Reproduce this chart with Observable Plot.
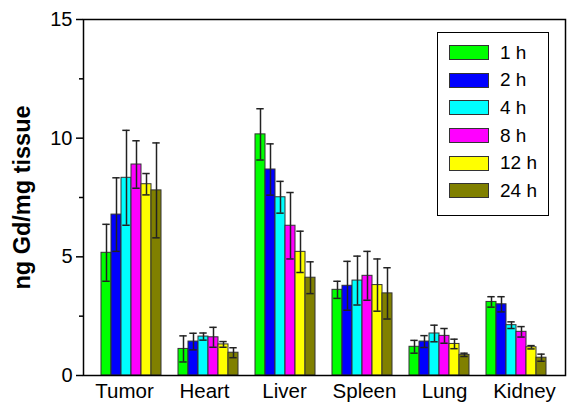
<!DOCTYPE html>
<html>
<head>
<meta charset="utf-8">
<script src="https://cdn.jsdelivr.net/npm/d3@7"></script>
<script src="https://cdn.jsdelivr.net/npm/@observablehq/plot@0.6"></script>
<style>
  html, body { margin: 0; padding: 0; background: #fff; }
  #wrap { position: relative; width: 567px; height: 403px; font-family: "Liberation Sans", Arial, sans-serif; }
  #bars, #axes { position: absolute; left: 0; top: 0; }
  #axes svg { background: transparent !important; }
  #legend { position: absolute; left: 437px; top: 32px; width: 110px; height: 176px; border: 1.5px solid #000; background: #fff; padding-top: 6px; box-sizing: content-box; }
  .row { display: flex; align-items: center; height: 27.6px; }
  .sw { width: 38px; height: 13px; border: 1.3px solid #333; margin-left: 11px; margin-right: 11px; }
  .lab { font-size: 19px; color: #000; }
</style>
</head>
<body>
<div id="wrap">
  <div id="bars"></div>
  <div id="axes"></div>
  <div id="legend"></div>
</div>
<script>
const organs = ["Tumor", "Heart", "Liver", "Spleen", "Lung", "Kidney"];
const times = ["1 h", "2 h", "4 h", "8 h", "12 h", "24 h"];
const colors = ["#00ff00", "#0000ff", "#00ffff", "#ff00ff", "#ffff00", "#808000"];

// mean values per time point, ordered as organs
const mean1h  = [5.17, 1.12, 10.16, 3.61, 1.21, 3.10];
const mean2h  = [6.78, 1.43, 8.68, 3.78, 1.43, 3.00];
const mean4h  = [8.33, 1.64, 7.51, 4.00, 1.77, 2.12];
const mean8h  = [8.89, 1.61, 6.31, 4.20, 1.67, 1.84];
const mean12h = [8.06, 1.31, 5.21, 3.81, 1.33, 1.19];
const mean24h = [7.80, 0.96, 4.12, 3.46, 0.87, 0.75];

// error (± SD) per time point, ordered as organs
const err1h  = [1.20, 0.55, 1.08, 0.36, 0.27, 0.22];
const err2h  = [1.55, 0.35, 1.08, 1.03, 0.25, 0.32];
const err4h  = [2.00, 0.15, 0.67, 1.03, 0.35, 0.14];
const err8h  = [1.00, 0.42, 1.40, 1.03, 0.31, 0.22];
const err12h = [0.45, 0.12, 0.87, 1.10, 0.20, 0.07];
const err24h = [2.00, 0.21, 0.67, 1.08, 0.07, 0.15];

const yTicks = [0, 5, 10, 15];
const yMinorTicks = [2.5, 7.5, 12.5];
const yLabel = "ng Gd/mg tissue";

const means = [mean1h, mean2h, mean4h, mean8h, mean12h, mean24h];
const errs = [err1h, err2h, err4h, err8h, err12h, err24h];
const data = [];
times.forEach((t, i) => organs.forEach((o, j) => {
  data.push({organ: o, time: t, mean: means[i][j], err: errs[i][j]});
}));

const common = {
  width: 567,
  height: 403,
  marginLeft: 83,
  marginRight: 2,
  marginTop: 19,
  marginBottom: 28,
  style: {fontFamily: "'Liberation Sans', Arial, sans-serif", fontSize: "20px", color: "#000", background: "transparent"}
};
const groupPad = {paddingInner: 0.19, paddingOuter: 0.19, align: 0.5};

// Layer 1: grouped bars with error bars (faceted by organ)
const bars = Plot.plot({
  ...common,
  fx: {domain: organs, ...groupPad, axis: null},
  x: {domain: times, padding: 0, axis: null},
  y: {domain: [0, 15], axis: null},
  color: {domain: times, range: colors},
  marks: [
    Plot.barY(data, {fx: "organ", x: "time", y: "mean", fill: "time", stroke: "#333", strokeWidth: 1}),
    Plot.ruleX(data, {fx: "organ", x: "time", y1: d => d.mean - d.err, y2: d => d.mean + d.err, stroke: "#222", strokeWidth: 1.5}),
    Plot.tickY(data, {fx: "organ", x: "time", y: d => d.mean + d.err, stroke: "#222", strokeWidth: 1.5, insetLeft: 1.3, insetRight: 1.3}),
    Plot.tickY(data, {fx: "organ", x: "time", y: d => d.mean - d.err, stroke: "#222", strokeWidth: 1.5, insetLeft: 1.3, insetRight: 1.3})
  ]
});
document.getElementById("bars").appendChild(bars);

// Layer 2: frame, axes and labels (same scales, not faceted)
const axes = Plot.plot({
  ...common,
  x: {domain: organs, ...groupPad},
  y: {domain: [0, 15]},
  marks: [
    Plot.frame({stroke: "#000", strokeWidth: 1.5}),
    Plot.axisX({tickSize: 0, tickPadding: 8, label: null, fontSize: 20.5}),
    Plot.axisY(yTicks, {tickSize: 7, tickPadding: 4, label: null, fontSize: 20, strokeWidth: 1.5}),
    Plot.axisY(yMinorTicks, {tickSize: 4, tickFormat: () => "", label: null, strokeWidth: 1.5}),
    Plot.axisY([], {label: yLabel, labelAnchor: "center", labelOffset: 70, labelArrow: "none", fontWeight: "bold", fontSize: 23.5})
  ]
});
document.getElementById("axes").appendChild(axes);

const legend = document.getElementById("legend");
times.forEach((t, i) => {
  const row = document.createElement("div");
  row.className = "row";
  const sw = document.createElement("div");
  sw.className = "sw";
  sw.style.background = colors[i];
  const lab = document.createElement("span");
  lab.className = "lab";
  lab.textContent = t;
  row.appendChild(sw);
  row.appendChild(lab);
  legend.appendChild(row);
});
</script>
</body>
</html>
